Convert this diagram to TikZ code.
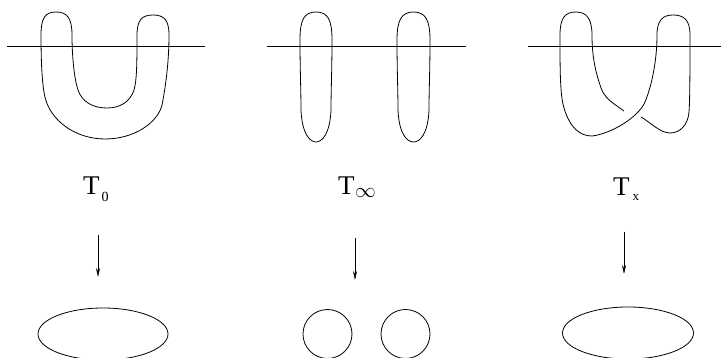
\documentclass[tikz,border=0pt]{standalone}
\usepackage{fontspec}
\setmainfont{Liberation Serif}
\usetikzlibrary{arrows.meta,shapes.geometric}
\tikzset{
  knot/.style={line width=0.8pt},
  axisline/.style={line width=0.9pt},
  maparrow/.style={line width=0.6pt,-{Stealth[length=9pt,width=4pt]}},
  lbl/.style={anchor=base west,inner sep=0pt,font=\fontsize{27}{27}\selectfont},
  oval/.style={draw,ellipse,line width=0.8pt,inner sep=0pt},
  ring/.style={draw,circle,line width=0.8pt,inner sep=0pt,minimum size=49pt}
}
\begin{document}
\begin{tikzpicture}[x=1pt,y=-1pt]
\useasboundingbox (0,0) rectangle (721,358);
% horizontal lines
\coordinate (l1a) at (7,46); \coordinate (l1b) at (205,46);
\coordinate (l2a) at (267,46); \coordinate (l2b) at (466,46);
\coordinate (l3a) at (528,46); \coordinate (l3b) at (721,46);
\draw[axisline] (l1a) -- (l1b);
\draw[axisline] (l2a) -- (l2b);
\draw[axisline] (l3a) -- (l3b);
% T_0 tangle
\draw[knot] (56,12) .. controls (45,12) and (41,18) .. (41,35)
 .. controls (41,60) and (42,85) .. (45,97)
 .. controls (50,120) and (75,139) .. (105,139)
 .. controls (135,139) and (158,122) .. (162,105)
 .. controls (166,85) and (169,60) .. (169,35)
 .. controls (169,20) and (164,15) .. (153,15)
 .. controls (142,15) and (137,20) .. (137,35)
 .. controls (137,60) and (137,80) .. (134,90)
 .. controls (130,102) and (120,108) .. (107,108)
 .. controls (93,108) and (82,102) .. (78,90)
 .. controls (74,78) and (72,55) .. (72,35)
 .. controls (72,18) and (67,12) .. (56,12) -- cycle;
% T_infinity tangle
\draw[knot] (316,12) .. controls (304,12) and (300,20) .. (300,40)
 .. controls (300,70) and (301,90) .. (301,110)
 .. controls (302,134) and (310,142) .. (316,142)
 .. controls (322,142) and (330,134) .. (331,110)
 .. controls (331,90) and (332,70) .. (332,40)
 .. controls (332,20) and (328,12) .. (316,12) -- cycle;
\draw[knot] (413.5,12) .. controls (401.5,12) and (397,20) .. (397,40)
 .. controls (397,70) and (398,90) .. (398,110)
 .. controls (399,134) and (407,142) .. (413.5,142)
 .. controls (420,142) and (428,134) .. (429,110)
 .. controls (429,90) and (430,70) .. (430,40)
 .. controls (430,20) and (425.5,12) .. (413.5,12) -- cycle;
% T_x tangle
\draw[knot] (624,111) .. controls (610,101) and (604,98) .. (600,85)
 .. controls (595,70) and (592,55) .. (592,35)
 .. controls (592,18) and (586,12) .. (576,12)
 .. controls (565,12) and (560,18) .. (560,35)
 .. controls (560,70) and (560,95) .. (564,108)
 .. controls (570,128) and (580,136) .. (592,136)
 .. controls (610,134) and (638,118) .. (645,102)
 .. controls (652,85) and (657,60) .. (657,35)
 .. controls (657,20) and (663,15) .. (673,15)
 .. controls (684,15) and (690,20) .. (690,35)
 .. controls (690,60) and (690,100) .. (689,112)
 .. controls (688,125) and (680,133) .. (670,133)
 .. controls (660,133) and (650,122) .. (641,117);
% labels
\node[lbl] (t0) at (83,195) {T\kern2pt\raisebox{-7pt}{\fontsize{14}{14}\selectfont 0}};
\node[lbl] (tinf) at (338,195) {T\kern0.5pt\raisebox{-3pt}{\fontsize{20}{20}\selectfont$\infty$}};
\node[lbl] (tx) at (613,196) {T\kern3pt\raisebox{-5pt}{\fontsize{13}{13}\selectfont x}};
% resolved diagrams
\node[oval,minimum width=130pt,minimum height=52pt] (e0) at (103,334) {};
\node[ring] (c1) at (327.5,334) {};
\node[ring] (c2) at (405.5,334) {};
\node[oval,minimum width=131pt,minimum height=52pt] (ex) at (628,333) {};
% arrows
\coordinate (a0s) at (98,235); \coordinate (a0e) at (98,277);
\coordinate (a1s) at (355,238); \coordinate (a1e) at (355,280);
\coordinate (a2s) at (624,232); \coordinate (a2e) at (624,274);
\draw[maparrow] (a0s) -- (a0e);
\draw[maparrow] (a1s) -- (a1e);
\draw[maparrow] (a2s) -- (a2e);
\end{tikzpicture}
\end{document}
